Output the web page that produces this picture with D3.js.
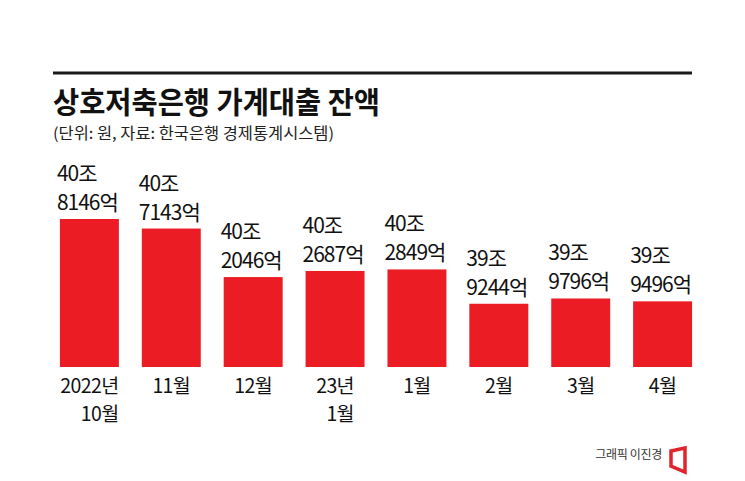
<!DOCTYPE html>
<html><head><meta charset="utf-8">
<script src="https://cdn.jsdelivr.net/npm/d3@7"></script>
<style>body{margin:0;background:#fff}svg{display:block}text{font-family:"Noto Sans CJK KR","Noto Sans",sans-serif}</style>
</head><body><svg id="c" width="745" height="481"></svg>
<script>
const categoriesLine1 = ["2022년","11월","12월","23년","1월","2월","3월","4월"];
const categoriesLine2 = ["10월","","","1월","","","",""];
const values = [408146,407143,402046,402687,402849,399244,399796,399496]; // 억원
const labelJo = ["40조","40조","40조","40조","40조","39조","39조","39조"];
const labelEok = ["8146억","7143억","2046억","2687억","2849억","9244억","9796억","9496억"];

const svg = d3.select("#c");
const W = 745, H = 481;
svg.append("rect").attr("width",W).attr("height",H).attr("fill","#fff");

// header rule
svg.append("line").attr("x1",53).attr("x2",692).attr("y1",73).attr("y2",73)
  .attr("stroke","#1a1a1a").attr("stroke-width",2.8);
svg.append("text").attr("x",53).attr("y",113).attr("font-size",30).attr("font-weight",700)
  .attr("fill","#111").attr("textLength",327).attr("lengthAdjust","spacingAndGlyphs")
  .text("상호저축은행 가계대출 잔액");
svg.append("text").attr("x",53).attr("y",139).attr("font-size",15.5)
  .attr("fill","#222").attr("textLength",281).attr("lengthAdjust","spacingAndGlyphs")
  .text("(단위: 원, 자료: 한국은행 경제통계시스템)");

const x = d3.scaleBand().domain(d3.range(values.length)).range([55,697]).paddingInner(0.28).paddingOuter(0.06);
const y = d3.scaleLinear().domain([392600, 408146]).range([367, 219]);

const g = svg.append("g");
g.selectAll("rect.bar").data(values).join("rect").attr("class","bar")
  .attr("x",(d,i)=>x(i)).attr("width",x.bandwidth())
  .attr("y",d=>y(d)).attr("height",d=>y.range()[0]-y(d))
  .attr("fill","#ec1c24");

// value labels (two lines in one text)
const vl = g.selectAll("text.val").data(values).join("text").attr("class","val")
  .attr("font-size",21).attr("letter-spacing",-1).attr("fill","#111");
vl.append("tspan").attr("x",(d,i)=>x(i)-3).attr("y",d=>y(d)-38).text((d,i)=>labelJo[i]);
vl.append("tspan").attr("x",(d,i)=>x(i)-3).attr("y",d=>y(d)-9).text((d,i)=>labelEok[i]);

// category labels
categoriesLine1.forEach((c,i)=>{
  const cx = x(i)+x.bandwidth()/2;
  const t = g.append("text").attr("font-size",19.5).attr("letter-spacing",-0.6).attr("fill","#111");
  const t1 = t.append("tspan").attr("x",cx).attr("y",393).attr("text-anchor","middle").text(c);
  if (categoriesLine2[i]) {
    const w = t1.node().getComputedTextLength();
    t.append("tspan").attr("x",cx + w/2).attr("y",421).attr("text-anchor","end").text(categoriesLine2[i]);
  }
});

// credit
svg.append("text").attr("x",662).attr("y",459).attr("text-anchor","end")
  .attr("font-size",12).attr("letter-spacing",-0.3).attr("fill","#333").text("그래픽 이진경");
svg.append("polygon").attr("points","671,451 685,448 685,472 671,466")
  .attr("fill","none").attr("stroke","#e0242b").attr("stroke-width",3.5).attr("stroke-linejoin","miter");
</script></body></html>
